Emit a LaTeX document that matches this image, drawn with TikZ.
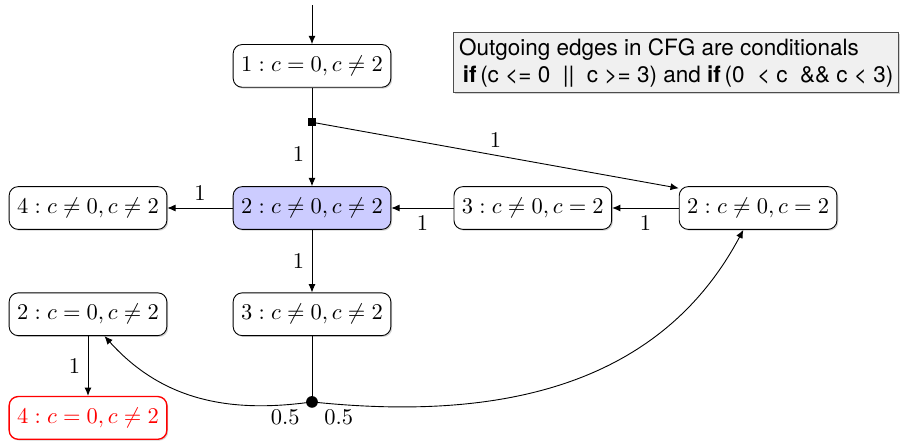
\documentclass[tikz,border=0pt]{standalone}
\usepackage{fontspec}
\setsansfont{TeX Gyre Heros}
\usepackage{tikz}
\usetikzlibrary{arrows.meta,positioning,shadows}
\definecolor{notegray}{RGB}{240,240,240}
\definecolor{curblue}{RGB}{204,204,255}

\begin{document}
\begin{tikzpicture}[
  st/.style={rectangle,rounded corners=4pt,draw=black,fill=white,inner sep=3.5pt,minimum height=19pt,
    drop shadow={shadow xshift=0.6pt,shadow yshift=-0.6pt,opacity=0.35}},
  cur/.style={st,fill=curblue},
  bad/.style={st,draw=red,text=red,semithick},
  ar/.style={-{Latex[length=1.3mm,width=1.1mm]}}]
\useasboundingbox (-4.875,-3.656) rectangle (9.1875,3.25);
% states
\node[st] (s1) at (0,2.22) {$1 : c = 0, c \neq 2$};
\node[cur] (s2) at (0,0) {$2 : c \neq 0, c \neq 2$};
\node[st] (s4) at (-3.5,0) {$4 : c \neq 0, c \neq 2$};
\node[st] (s3) at (3.45,0) {$3 : c \neq 0, c = 2$};
\node[st] (s2b) at (6.97,0) {$2 : c \neq 0, c = 2$};
\node[st] (s3b) at (0,-1.66) {$3 : c \neq 0, c \neq 2$};
\node[st] (s2c) at (-3.5,-1.66) {$2 : c = 0, c \neq 2$};
\node[bad] (s4r) at (-3.5,-3.28) {$4 : c = 0, c \neq 2$};
% branch points
\coordinate (init) at (0,3.17);
\node[rectangle,fill=black,inner sep=0pt,minimum size=3.6pt] (sq) at (0,1.34) {};
\node[circle,fill=black,inner sep=0pt,minimum size=5.2pt] (dot) at (0,-3.03) {};
% note
\node[rectangle,draw=black!70,fill=notegray,font=\sffamily,align=left,inner sep=2.5pt,
  drop shadow={shadow xshift=0.6pt,shadow yshift=-0.6pt,opacity=0.35}] (note) at (5.69,2.27)
  {Outgoing edges in CFG are conditionals\\
   \,\textbf{if}\,(c <= 0 \ || \ c >= 3) and \textbf{if}\,(0 \ < c \ \&\& c < 3)};
% edges
\draw[ar] (init) -- (s1);
\draw (s1) -- (sq.center);
\draw[ar] (sq.center) -- node[left] {1} (s2);
\draw[ar] (sq.center) -- node[above,pos=0.5] {1} (s2b.166);
\draw[ar] (s2) -- node[above] {1} (s4);
\draw[ar] (s3) -- node[below] {1} (s2);
\draw[ar] (s2b) -- node[below] {1} (s3);
\draw[ar] (s2) -- node[left] {1} (s3b);
\draw (s3b) -- (dot.center);
\draw[ar] (s2c) -- node[left] {1} (s4r);
\draw[ar] (dot.center) to[out=188,in=-48] node[pos=0,below left,xshift=-2pt] {0.5} (s2c.-53);
\draw[ar] (dot.center) to[out=-6,in=-118] node[pos=0,below right,xshift=2pt] {0.5} (s2b.-124);
\end{tikzpicture}
\end{document}
